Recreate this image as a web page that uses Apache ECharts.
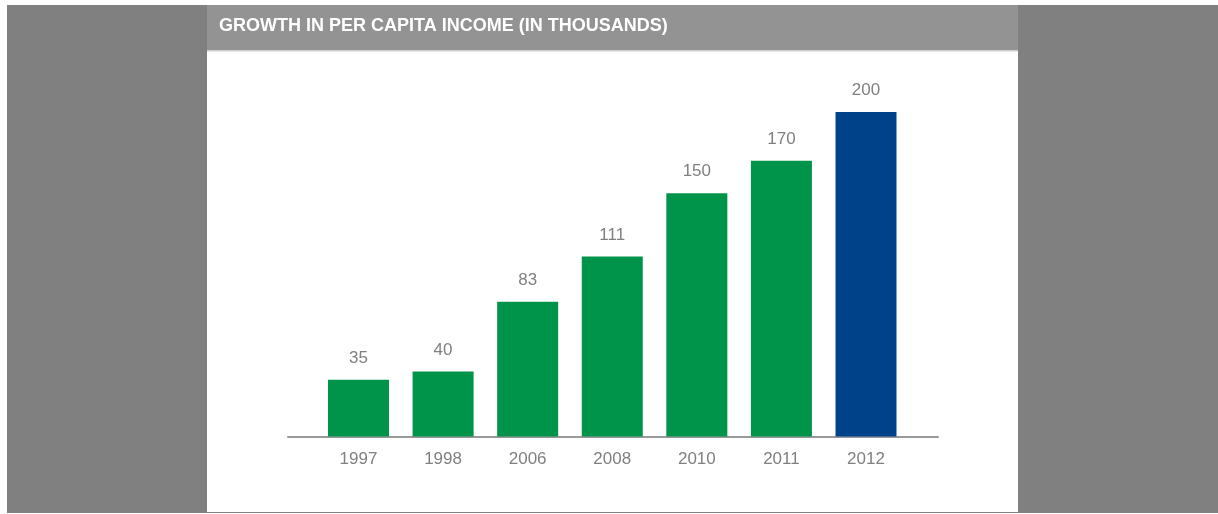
<!DOCTYPE html>
<html>
<head>
<meta charset="utf-8">
<script src="https://cdn.jsdelivr.net/npm/echarts@6/dist/echarts.min.js"></script>
<style>
html,body{margin:0;padding:0;background:#fff;}
#c{width:1218px;height:514px;}
</style>
</head>
<body>
<div id="c"></div>
<script>
var titleText = 'GROWTH IN PER CAPITA INCOME (IN THOUSANDS)';
var categories = ['1997', '1998', '2006', '2008', '2010', '2011', '2012'];
var values = [35, 40, 83, 111, 150, 170, 200];
var highlightIndex = 6;

var green = '#00934A';
var blue = '#004289';

var chart = echarts.init(document.getElementById('c'), null, {renderer: 'canvas'});
chart.setOption({
  animation: false,
  backgroundColor: '#ffffff',
  graphic: [
    {type: 'rect', shape: {x: 7, y: 5, width: 1211, height: 508}, style: {fill: '#808080'}, z: -10},
    {type: 'rect', shape: {x: 207, y: 5, width: 811, height: 507}, style: {fill: '#ffffff'}, z: -9},
    {type: 'rect', shape: {x: 207, y: 5, width: 811, height: 45}, style: {fill: '#939393'}, z: -8},
    {type: 'rect', shape: {x: 207, y: 50, width: 811, height: 1.5}, style: {fill: '#cfcfcf'}, z: -8},
    {type: 'text', x: 219, y: 26, style: {text: titleText, fill: '#ffffff', font: 'bold 18px "Liberation Sans", Arial, sans-serif', verticalAlign: 'middle', align: 'left'}, z: 10}
  ],
  grid: [
    {left: 288, right: 280, top: 112, bottom: 77.5},
    {left: 316.2, right: 309.7, top: 112, bottom: 77.5}
  ],
  xAxis: [
    {type: 'category', gridIndex: 0, data: [''], axisLine: {show: true, lineStyle: {color: '#999999', width: 2}}, axisTick: {show: false}, axisLabel: {show: false}, splitLine: {show: false}},
    {type: 'category', gridIndex: 1, data: categories, axisLine: {show: false}, axisTick: {show: false},
     axisLabel: {color: '#808080', fontSize: 17, margin: 14, fontFamily: '"Liberation Sans", Arial, sans-serif'}}
  ],
  yAxis: [
    {type: 'value', gridIndex: 0, min: 0, max: 200, show: false},
    {type: 'value', gridIndex: 1, min: 0, max: 200, show: false}
  ],
  series: [{
    type: 'bar',
    xAxisIndex: 1,
    yAxisIndex: 1,
    barWidth: 61,
    data: values.map(function (v, i) {
      return {value: v, itemStyle: {color: i === highlightIndex ? blue : green}};
    }),
    label: {show: true, position: 'top', distance: 13, color: '#808080', fontSize: 17, fontFamily: '"Liberation Sans", Arial, sans-serif'}
  }]
});
</script>
</body>
</html>
